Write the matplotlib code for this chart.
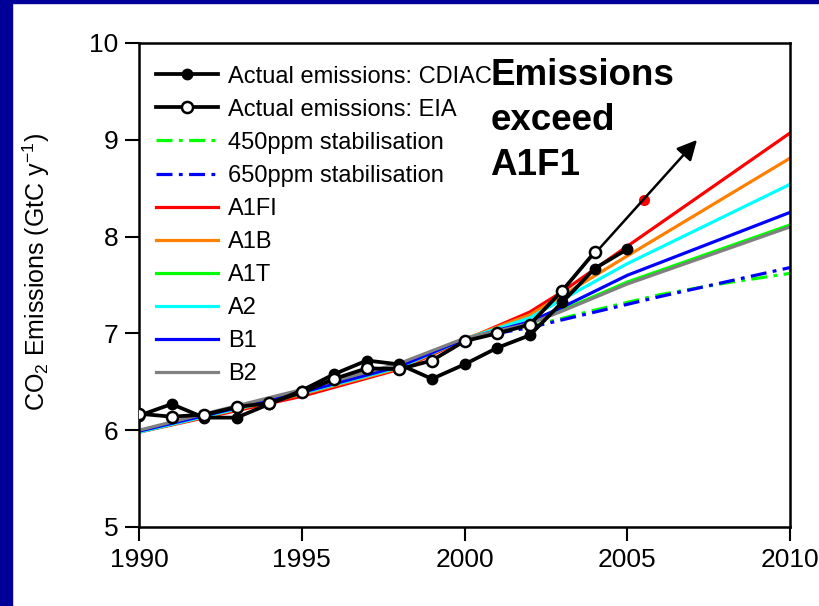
import matplotlib
matplotlib.use('Agg')
from matplotlib import rcParams
rcParams['font.family'] = ['Liberation Sans', 'DejaVu Sans']
rcParams['mathtext.default'] = 'regular'
import matplotlib.pyplot as plt
from matplotlib.patches import Rectangle

# actual emissions (GtC/yr)
cdiac_years = [1990, 1991, 1992, 1993, 1994, 1995, 1996, 1997, 1998, 1999,
               2000, 2001, 2002, 2003, 2004, 2005]
cdiac = [6.15, 6.27, 6.13, 6.13, 6.27, 6.41, 6.58, 6.72, 6.68, 6.53,
         6.68, 6.85, 6.98, 7.32, 7.67, 7.87]
eia_years = [1990, 1991, 1992, 1993, 1994, 1995, 1996, 1997, 1998, 1999,
             2000, 2001, 2002, 2003, 2004]
eia = [6.17, 6.14, 6.16, 6.24, 6.28, 6.39, 6.53, 6.64, 6.63, 6.72,
       6.92, 7.00, 7.09, 7.44, 7.84]

# stabilisation pathways
stab_years = [2000, 2002, 2004, 2006, 2008, 2010]
s450 = [6.94, 7.07, 7.24, 7.40, 7.52, 7.62]
s650 = [6.94, 7.06, 7.22, 7.38, 7.53, 7.68]

# SRES scenarios
sres_years = [1990, 1995, 1998, 2000, 2002, 2003, 2005, 2010]
a1fi = [5.98, 6.35, 6.63, 6.93, 7.22, 7.43, 7.90, 9.07]
a1b  = [5.98, 6.37, 6.64, 6.94, 7.19, 7.39, 7.80, 8.81]
a1t  = [5.99, 6.40, 6.67, 6.94, 7.10, 7.24, 7.53, 8.12]
a2   = [5.98, 6.38, 6.65, 6.94, 7.16, 7.35, 7.72, 8.54]
b1   = [5.99, 6.39, 6.66, 6.94, 7.12, 7.27, 7.60, 8.25]
b2   = [6.00, 6.42, 6.69, 6.95, 7.10, 7.23, 7.51, 8.10]

obs_2005 = (2005.5, 8.38)
arrow_start = (2004.1, 7.86)
arrow_end = (2007.2, 9.02)

fig = plt.figure(figsize=(8.19, 6.06), dpi=100)
fig.patches.append(Rectangle((0, 0), 12 / 819, 1, transform=fig.transFigure,
                             color='#000099', zorder=-1))
fig.patches.append(Rectangle((0, 1 - 3 / 606), 1, 3 / 606, transform=fig.transFigure,
                             color='#000099', zorder=-1))
ax = fig.add_axes([139 / 819, 1 - 527 / 606, 651 / 819, 484 / 606])

dd = (0, (5, 2, 1.2, 2))
lw = 2.3
ax.plot(cdiac_years, cdiac, '-o', color='k', lw=2.7, ms=7.5, zorder=10,
        label='Actual emissions: CDIAC')
ax.plot(eia_years, eia, '-o', color='k', lw=2.7, ms=8, mfc='white', mew=1.8,
        zorder=11, label='Actual emissions: EIA')
ax.plot(stab_years, s450, color='#00ff00', lw=lw, ls=dd, label='450ppm stabilisation')
ax.plot(stab_years, s650, color='#0000ff', lw=lw, ls=dd, label='650ppm stabilisation')
ax.plot(sres_years, a1fi, color='#ff0000', lw=lw, label='A1FI')
ax.plot(sres_years, a1b, color='#ff8000', lw=lw, label='A1B')
ax.plot(sres_years, a1t, color='#00ff00', lw=lw, label='A1T')
ax.plot(sres_years, a2, color='#00ffff', lw=lw, label='A2')
ax.plot(sres_years, b1, color='#0000ff', lw=lw, label='B1')
ax.plot(sres_years, b2, color='#808080', lw=lw, label='B2')

ax.plot(*obs_2005, 'o', color='#ff0000', ms=7, zorder=5)
ax.annotate('', xy=arrow_end, xytext=arrow_start,
            arrowprops=dict(arrowstyle='-|>', color='k', lw=1.8,
                            mutation_scale=30), zorder=12)
ax.text(2000.8, 9.84, 'Emissions\nexceed\nA1F1', fontsize=26.5, fontweight='bold',
        va='top', ha='left', linespacing=1.36)

ax.set_xlim(1990, 2010)
ax.set_ylim(5, 10)
ax.set_xticks([1990, 1995, 2000, 2005, 2010])
ax.set_yticks([5, 6, 7, 8, 9, 10])
ax.tick_params(labelsize=19, width=1.5, length=10, direction='out', pad=5)
for s in ax.spines.values():
    s.set_linewidth(1.8)
ax.set_ylabel('CO$_2$ Emissions (GtC y$^{-1}$)', fontsize=18)
ax.yaxis.set_label_coords(-0.133, 0.527)

ax.legend(loc='upper left', bbox_to_anchor=(0.012, 0.973), borderaxespad=0,
          frameon=False, fontsize=17, handlelength=2.6, handletextpad=0.45,
          labelspacing=0.47, numpoints=1)

fig.savefig('out.png', dpi=100)
